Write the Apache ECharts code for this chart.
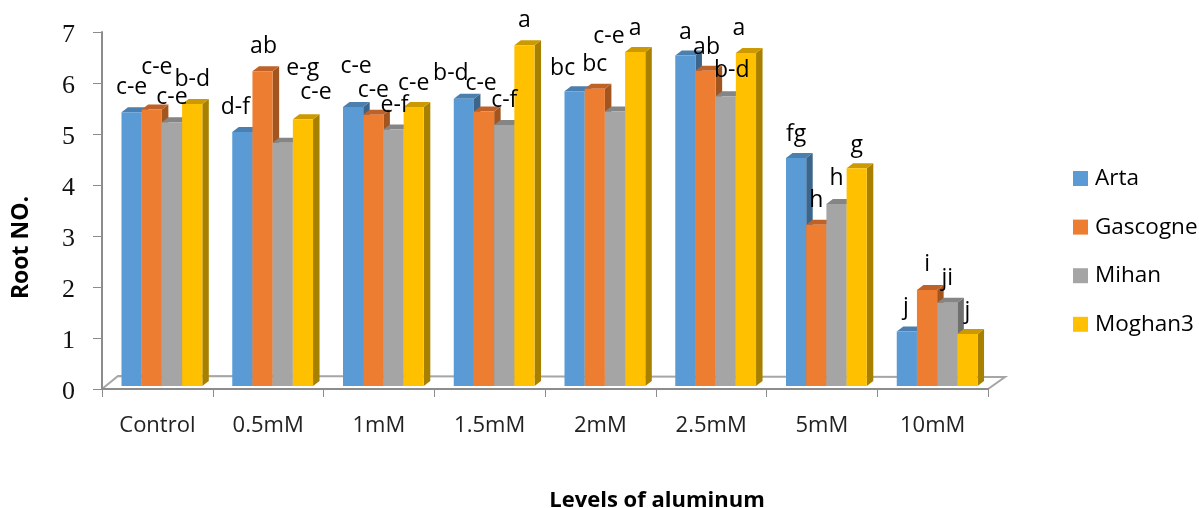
<!DOCTYPE html>
<html><head><meta charset="utf-8">
<style>html,body{margin:0;padding:0;background:#fff}#c{width:1199px;height:508px}</style>
<script src="https://cdn.jsdelivr.net/npm/echarts@6/dist/echarts.min.js"></script>
</head><body><div id="c"></div>
<script>
const categories = ['Control','0.5mM','1mM','1.5mM','2mM','2.5mM','5mM','10mM'];
const seriesNames = ['Arta','Gascogne','Mihan','Moghan3'];
const arta     = [5.37,4.98,5.47,5.63,5.78,6.48,4.47,1.07];
const gascogne = [5.42,6.17,5.32,5.38,5.83,6.18,3.16,1.88];
const mihan    = [5.17,4.77,5.03,5.12,5.38,5.68,3.57,1.63];
const moghan3  = [5.53,5.23,5.47,6.68,6.55,6.53,4.27,1.02];
const artaLetters     = ['c-e','d-f','c-e','b-d','bc','a','fg','j'];
const gascogneLetters = ['c-e','ab','c-e','c-e','bc','ab','h','i'];
const mihanLetters    = ['c-e','e-g','e-f','c-f','c-e','b-d','h','ji'];
const moghan3Letters  = ['b-d','c-e','c-e','a','a','a','g','j'];

const values = [arta,gascogne,mihan,moghan3];
const letters = [artaLetters,gascogneLetters,mihanLetters,moghan3Letters];
// label offsets (px) from the centre of each bar's top edge
const labelDx = [[0,-7,3,-13,-12,0,0,-1],[5,1,0,-3,0,1,0,0],[0,20,1,0,-6,6,0,0],[0,13,0,0,0,-7,0,0]];
const labelDy = [[-26,-26,-42,-27,-24,-25,-25,-25],[-44,-26,-26,-30,-26,-25,-26,-27],[-26,-76,-26,-26,-77,-27,-27,-26],[-26,-28,-25,-26,-25,-26,-24,-24]];

const front = ['#5B9BD5','#ED7D31','#A5A5A5','#FFC000'];
const topC  = ['#4A7FAF','#BF6228','#858585','#CC9A00'];
const side  = ['#3C658C','#A3551F','#6F6F6F','#A88000'];

const catW = 110.75, leadGap = 19.5, barW = 20.2, dX = 6.5, dY = 5, lift = 3, textNudge = 1.5;

function barX(api, g, s){ return api.coord([g,0])[0] - catW/2 + leadGap + s*barW; }

function renderBar(params, api){
  const s = params.seriesIndex, g = api.value(0), v = api.value(1);
  const x0 = barX(api,g,s), x1 = x0+barW;
  const yT = api.coord([g,v])[1]-lift, yB = api.coord([g,0])[1]-lift;
  return {type:'group',children:[
    {type:'polygon',shape:{points:[[x1,yT],[x1+dX,yT-dY],[x1+dX,yB-dY],[x1,yB]]},style:{fill:side[s]}},
    {type:'polygon',shape:{points:[[x0,yT],[x0+dX,yT-dY],[x1+dX,yT-dY],[x1,yT]]},style:{fill:topC[s]}},
    {type:'rect',shape:{x:x0,y:yT,width:barW,height:yB-yT},style:{fill:front[s]}}
  ]};
}
function renderLabel(params, api){
  const g = api.value(0), s = api.value(2);
  const cx = barX(api,g,s)+barW/2, yT = api.coord([g,api.value(1)])[1]-lift;
  return {type:'text',style:{
    x:cx+labelDx[s][g], y:yT+labelDy[s][g]+textNudge, text:letters[s][g],
    fill:'#000', font:'23px "Open Sans"', textAlign:'center', textVerticalAlign:'middle'}};
}
const labelData = [];
values.forEach((arr,s)=>arr.forEach((v,g)=>labelData.push([g,v,s])));

const chart = echarts.init(document.getElementById('c'),null,{renderer:'canvas'});
chart.setOption({
  animation:false,
  backgroundColor:'#fff',
  grid:{left:102,top:32,width:886,height:357,containLabel:false,outerBoundsMode:'none'},
  legend:{
    orient:'vertical',left:1073,top:167,padding:0,itemWidth:15,itemHeight:15,itemGap:25.6,
    data:seriesNames.map(n=>({name:n,icon:'rect'})),
    textStyle:{fontFamily:'"Open Sans"',fontSize:22.5,color:'#000',padding:[0,0,0,2],lineHeight:15}
  },
  graphic:[
    {type:'polygon',z:0,shape:{points:[[102,389],[118,376],[1005,377],[988,389]]},
     style:{fill:'#fff',stroke:'#a6a6a6',lineWidth:2}}
  ],
  xAxis:{
    type:'category',data:categories,boundaryGap:true,
    axisLine:{lineStyle:{color:'#8c8c8c',width:2}},
    axisTick:{show:true,alignWithLabel:false,length:8,lineStyle:{color:'#8c8c8c',width:1}},
    axisLabel:{color:'#222',fontFamily:'"Open Sans"',fontSize:22,margin:26},
    name:'Levels of aluminum',nameLocation:'center',nameGap:101,
    nameTextStyle:{fontFamily:'"Open Sans"',fontWeight:'bold',fontSize:22,color:'#000',padding:[0,0,0,224]}
  },
  yAxis:{
    type:'value',min:0,max:7,interval:1,
    splitLine:{show:false},
    axisLine:{show:true,lineStyle:{color:'#8c8c8c',width:2}},
    axisTick:{show:true,length:9,lineStyle:{color:'#8c8c8c',width:1}},
    axisLabel:{margin:27,formatter:'{d|{value}}',
      rich:{d:{color:'#111',fontFamily:'"Liberation Serif"',fontSize:26,padding:[6,0,0,0]}}},
    name:'Root NO.',nameLocation:'center',nameGap:69,nameRotate:90,
    nameTextStyle:{fontFamily:'"Open Sans"',fontWeight:'bold',fontSize:23,color:'#000',padding:[0,74,0,0]}
  },
  series:[
    ...seriesNames.map((n,s)=>({
      name:n,type:'custom',z:3,clip:false,renderItem:renderBar,
      itemStyle:{color:front[s]},
      encode:{x:0,y:1},
      data:values[s].map((v,g)=>[g,v])
    })),
    {name:'letters',type:'custom',z:6,clip:false,renderItem:renderLabel,encode:{x:0,y:1},data:labelData,silent:true}
  ]
});
</script></body></html>
